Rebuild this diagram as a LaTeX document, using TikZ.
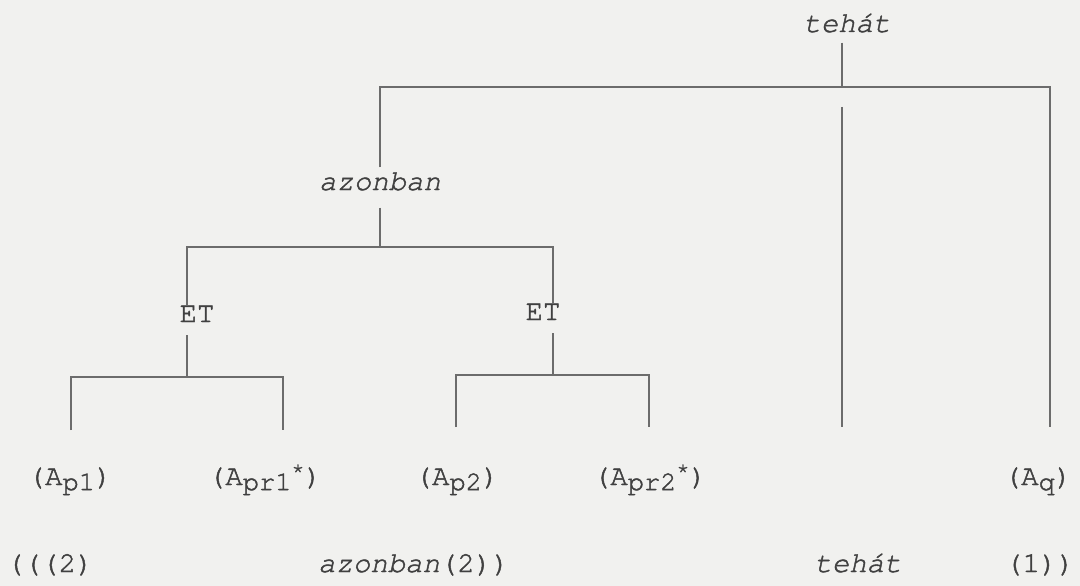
\documentclass[tikz,border=0pt]{standalone}
\usepackage{fontspec}
\setmonofont{texgyrecursor}[Extension=.otf, UprightFont=*-regular, ItalicFont=*-italic, BoldFont=*-bold, BoldItalicFont=*-bolditalic, UprightFeatures={FakeBold=1.6}, ItalicFeatures={FakeBold=1.6}]
\usetikzlibrary{positioning}
\definecolor{inkGray}{HTML}{404040}
\definecolor{ruleGray}{HTML}{6C6C6C}
\definecolor{paperTone}{HTML}{F1F1EF}
\newcommand{\lowidx}[1]{\raisebox{-0.42ex}{\fontsize{27}{27}\selectfont #1}}
\newcommand{\highidx}[1]{\raisebox{0.6ex}{\fontsize{22}{22}\selectfont #1}}

\begin{document}
\begin{tikzpicture}[x=1pt, y=-1pt,
    lbl/.style={font=\ttfamily\fontsize{29}{34}\selectfont, text=inkGray, inner sep=0pt, anchor=base},
    conj/.style={lbl, font=\ttfamily\itshape\fontsize{29}{34}\selectfont},
    branch/.style={draw=ruleGray, line width=1.8pt}]
  % Paper
  \fill[paperTone] (0,0) rectangle (1080,586);
  \useasboundingbox (0,0) rectangle (1080,586);

  % Labels of the tree
  \node[conj] (tehatTop) at (847,32) {tehát};
  \node[conj] (azonban) at (380,190) {azonban};
  \node[lbl] (etL) at (197,322) {ET};
  \node[lbl] (etR) at (543,320) {ET};
  \node[lbl] (ap1) at (70,485) {(A\lowidx{p1})};
  \node[lbl] (apr1) at (265,485) {(A\lowidx{pr1}\highidx{*})};
  \node[lbl] (ap2) at (457,485) {(A\lowidx{p2})};
  \node[lbl] (apr2) at (650,485) {(A\lowidx{pr2}\highidx{*})};
  \node[lbl] (aq) at (1038,485) {(A\lowidx{q})};

  % Bracketing line
  \node[lbl] (brA) at (50,572) {(((2)};
  \node[lbl, anchor=base west] (brB) at (318,572) {\itshape azonban\upshape(2))};
  \node[conj] (brC) at (858,572) {tehát};
  \node[lbl] (brD) at (1040,572) {(1))};

  % Top level: teh\'at
  \coordinate (rootJ) at (842,87);
  \coordinate (rootR) at (1050,87);
  \coordinate (qEnd) at (1050,427);
  \coordinate (midTop) at (842,107);
  \coordinate (midEnd) at (842,427);
  \draw[branch] (tehatTop.south -| rootJ) ++(0,10) -- (rootJ);
  \draw[branch] (azonban.north) ++(0,-5) |- (rootR) -- (qEnd);
  \draw[branch] (midTop) -- (midEnd);

  % Second level: azonban
  \coordinate (azJ) at (380,247);
  \coordinate (azL) at (187,247);
  \coordinate (azR) at (553,247);
  \draw[branch] (azonban.south) ++(0,17) -- (azJ);
  \draw[branch] (etL.north -| azL) |- (azR) -- (etR.north -| azR);

  % Third level: left ET
  \coordinate (p1J) at (187,377);
  \coordinate (p1End) at (71,430);
  \coordinate (pr1End) at (283,430);
  \draw[branch] (etL.south -| p1J) ++(0,13) -- (p1J);
  \draw[branch] (p1End) |- (p1J) -| (pr1End);

  % Third level: right ET
  \coordinate (p2J) at (553,375);
  \coordinate (p2End) at (456,427);
  \coordinate (pr2End) at (649,427);
  \draw[branch] (etR.south -| p2J) ++(0,13) -- (p2J);
  \draw[branch] (p2End) |- (p2J) -| (pr2End);
\end{tikzpicture}
\end{document}
